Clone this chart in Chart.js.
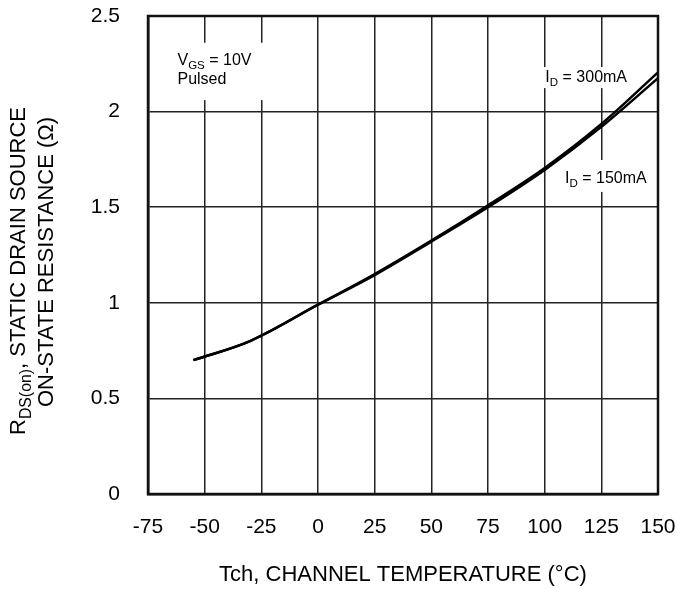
<!DOCTYPE html>
<html>
<head>
<meta charset="utf-8">
<script src="https://cdn.jsdelivr.net/npm/chart.js@4"></script>
<style>
  html, body { margin: 0; padding: 0; background: #fff; }
</style>
</head>
<body>
<canvas id="chart" width="678" height="589"></canvas>
<script>
// channel temperature (°C) and on-state resistance (ohm)
const temps = [-55, -30, 0, 25, 50, 75, 100, 125, 150];
const rds300 = [0.70, 0.80, 0.99, 1.15, 1.325, 1.51, 1.705, 1.935, 2.205];
const rds150 = [0.70, 0.80, 0.99, 1.145, 1.32, 1.50, 1.695, 1.92, 2.175];

const xTicks = [-75, -50, -25, 0, 25, 50, 75, 100, 125, 150];
const yTicks = [0, 0.5, 1, 1.5, 2, 2.5];

const FONT = "'Liberation Sans', Arial, sans-serif";

// text with subscripts, parts = [[text, isSub], ...]
function richWidth(ctx, parts, size) {
  let w = 0;
  parts.forEach(p => {
    ctx.font = (p[1] ? size * 0.72 : size) + "px " + FONT;
    w += ctx.measureText(p[0]).width;
  });
  return w;
}

function drawRich(ctx, parts, x, y, size, align) {
  let w = richWidth(ctx, parts, size);
  let cx = align == "center" ? x - w / 2 : x;
  ctx.textBaseline = "alphabetic";
  ctx.textAlign = "left";
  parts.forEach(p => {
    const s = p[1] ? size * 0.72 : size;
    ctx.font = s + "px " + FONT;
    ctx.fillText(p[0], cx, p[1] ? y + size * 0.28 : y);
    cx += ctx.measureText(p[0]).width;
  });
}

const notes = [
  { parts: [["V", false], ["GS", true], [" = 10V", false]], x: -62, y: 2.244, box: [-66, 2.36, -20, 2.06] },
  { parts: [["Pulsed", false]], x: -62, y: 2.144, box: null },
  { parts: [["I", false], ["D", true], [" = 300mA", false]], x: 100.3, y: 2.155, box: [98, 2.233, 142, 2.123] },
  { parts: [["I", false], ["D", true], [" = 150mA", false]], x: 109, y: 1.627, box: [106, 1.747, 146.5, 1.58] }
];

const annotations = {
  id: "annotations",
  beforeDatasetsDraw(chart) {
    const ctx = chart.ctx;
    const xs = chart.scales.x, ys = chart.scales.y;
    ctx.save();
    notes.forEach(n => {
      if (n.box) {
        const x0 = xs.getPixelForValue(n.box[0]), y0 = ys.getPixelForValue(n.box[1]);
        const x1 = xs.getPixelForValue(n.box[2]), y1 = ys.getPixelForValue(n.box[3]);
        ctx.fillStyle = "#fff";
        ctx.fillRect(x0, y0, x1 - x0, y1 - y0);
      }
    });
    ctx.fillStyle = "#000";
    notes.forEach(n => {
      drawRich(ctx, n.parts, xs.getPixelForValue(n.x), ys.getPixelForValue(n.y), 16, "left");
    });
    ctx.restore();
  },
  afterDraw(chart) {
    const ctx = chart.ctx;
    const a = chart.chartArea;
    ctx.save();
    ctx.strokeStyle = "#111";
    ctx.lineWidth = 2.5;
    ctx.strokeRect(a.left, a.top, a.right - a.left, a.bottom - a.top);
    ctx.restore();

    // y axis title, two rotated lines
    ctx.save();
    ctx.fillStyle = "#000";
    ctx.translate(0, 271);
    ctx.rotate(-Math.PI / 2);
    drawRich(ctx, [["R", false], ["DS(on)", true], [", STATIC DRAIN SOURCE", false]], 0, 25, 22, "center");
    ctx.restore();
    ctx.save();
    ctx.fillStyle = "#000";
    ctx.translate(0, 262);
    ctx.rotate(-Math.PI / 2);
    drawRich(ctx, [["ON-STATE RESISTANCE (Ω)", false]], 0, 53, 22, "center");
    ctx.restore();
  }
};

new Chart(document.getElementById("chart"), {
  type: "line",
  data: {
    datasets: [
      {
        label: "ID = 300mA",
        data: temps.map((t, i) => ({ x: t, y: rds300[i] })),
        borderColor: "#000",
        borderWidth: 2.5,
        pointRadius: 0,
        cubicInterpolationMode: "monotone",
        fill: false
      },
      {
        label: "ID = 150mA",
        data: temps.map((t, i) => ({ x: t, y: rds150[i] })),
        borderColor: "#000",
        borderWidth: 2.5,
        pointRadius: 0,
        cubicInterpolationMode: "monotone",
        fill: false
      }
    ]
  },
  options: {
    responsive: false,
    animation: false,
    layout: { padding: { left: 0, right: 20, top: 16, bottom: 0 } },
    plugins: {
      legend: { display: false },
      tooltip: { enabled: false }
    },
    scales: {
      x: {
        type: "linear",
        min: -75,
        max: 150,
        afterBuildTicks: s => { s.ticks = xTicks.map(v => ({ value: v })); },
        afterFit: s => {
          s.height = 95;
          s.paddingLeft = 0;
          s.paddingRight = 0;
        },
        grid: { color: "#222", lineWidth: 1.5, drawTicks: false },
        border: { color: "#111", width: 2.5 },
        ticks: {
          padding: 21,
          color: "#000",
          maxRotation: 0,
          autoSkip: false,
          font: { size: 21, family: FONT },
          callback: v => String(v)
        },
        title: {
          display: true,
          text: "Tch, CHANNEL TEMPERATURE (°C)",
          color: "#000",
          font: { size: 22, family: FONT },
          padding: { top: 4, bottom: 1 }
        }
      },
      y: {
        min: 0,
        max: 2.5,
        afterBuildTicks: s => { s.ticks = yTicks.map(v => ({ value: v })); },
        afterFit: s => {
          s.width = 148;
          s.paddingTop = 0;
          s.paddingBottom = 0;
        },
        grid: { color: "#222", lineWidth: 1.5, drawTicks: false },
        border: { color: "#111", width: 2.5 },
        ticks: {
          padding: 28,
          color: "#000",
          font: { size: 21, family: FONT },
          callback: v => String(v)
        }
      }
    }
  },
  plugins: [annotations]
});
</script>
</body>
</html>
